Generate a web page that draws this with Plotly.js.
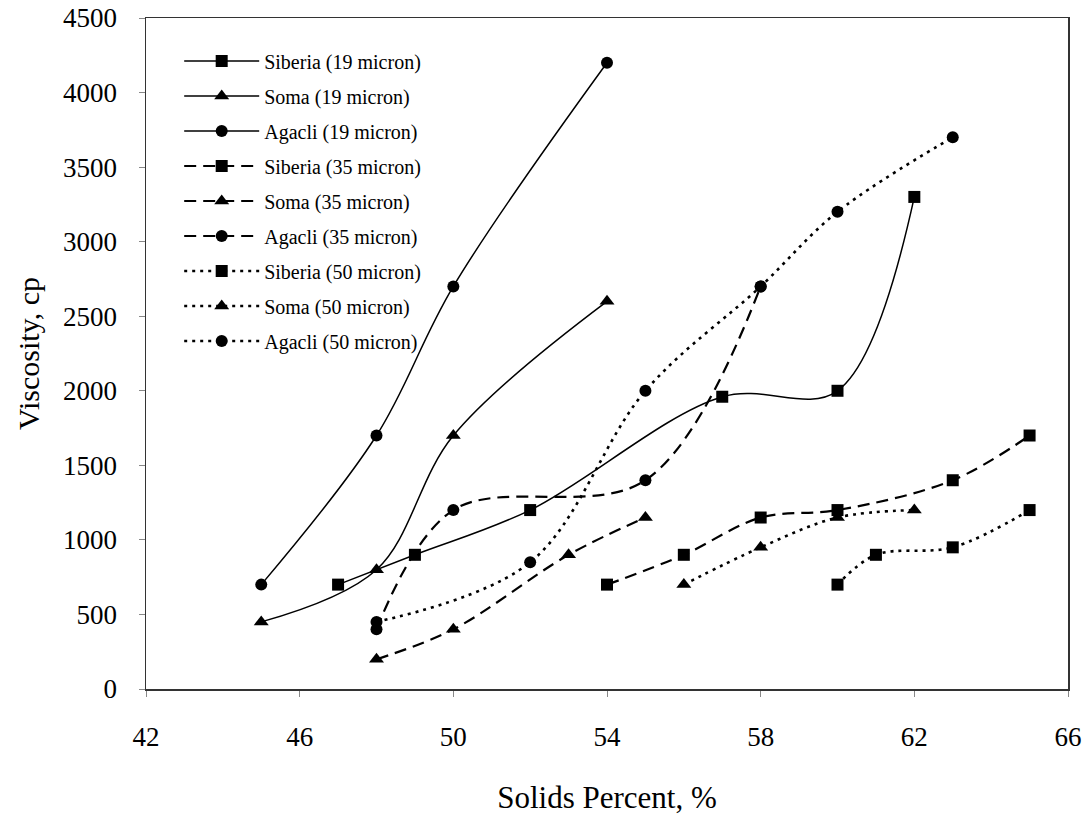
<!DOCTYPE html>
<html>
<head>
<meta charset="utf-8">
<script src="https://cdn.plot.ly/plotly-3.0.1.min.js"></script>
<style>
  html, body { margin: 0; padding: 0; background: #fff; }
  #chart { width: 1092px; height: 815px; }
</style>
</head>
<body>
<div id="chart"></div>
<script>
// Viscosity (cp) against solids percent for three coals at three grind sizes
const siberia19X = [47, 49, 52, 57, 60, 62];
const siberia19Y = [700, 900, 1200, 1960, 2000, 3300];
const soma19X = [45, 48, 50, 54];
const soma19Y = [450, 800, 1700, 2600];
const agacli19X = [45, 48, 50, 54];
const agacli19Y = [700, 1700, 2700, 4200];

const siberia35X = [54, 56, 58, 60, 63, 65];
const siberia35Y = [700, 900, 1150, 1200, 1400, 1700];
const soma35X = [48, 50, 53, 55];
const soma35Y = [200, 400, 900, 1150];
const agacli35X = [48, 50, 55, 58];
const agacli35Y = [400, 1200, 1400, 2700];

const siberia50X = [60, 61, 63, 65];
const siberia50Y = [700, 900, 950, 1200];
const soma50X = [56, 58, 60, 62];
const soma50Y = [700, 950, 1150, 1200];
const agacli50X = [48, 52, 55, 58, 60, 63];
const agacli50Y = [450, 850, 2000, 2700, 3200, 3700];

const xTicks = [42, 46, 50, 54, 58, 62, 66];
const yTicks = [0, 500, 1000, 1500, 2000, 2500, 3000, 3500, 4000, 4500];

const SERIF = '"Liberation Serif", "Times New Roman", serif';

// line style per grind size, marker per coal
const sizeStyle = {
  '19': { dash: 'solid', width: 1.5 },
  '35': { dash: '12px,7px', width: 2.2 },
  '50': { dash: '3px,5px', width: 2.6 }
};
const coalMarker = {
  Siberia: { symbol: 'square', size: 12 },
  Soma: { symbol: 'triangle-up', size: 13 },
  Agacli: { symbol: 'circle', size: 12 }
};

function series(coal, grind, xs, ys, idx) {
  return {
    type: 'scatter',
    mode: 'lines+markers',
    name: coal + ' (' + grind + ' micron)',
    x: xs,
    y: ys,
    legendgroup: 'g' + idx,
    line: { color: '#000', dash: sizeStyle[grind].dash, width: sizeStyle[grind].width,
            shape: 'spline', smoothing: 1 },
    marker: { color: '#000', symbol: coalMarker[coal].symbol, size: coalMarker[coal].size }
  };
}

const data = [
  series('Siberia', '19', siberia19X, siberia19Y, 1),
  series('Soma', '19', soma19X, soma19Y, 2),
  series('Agacli', '19', agacli19X, agacli19Y, 3),
  series('Siberia', '35', siberia35X, siberia35Y, 4),
  series('Soma', '35', soma35X, soma35Y, 5),
  series('Agacli', '35', agacli35X, agacli35Y, 6),
  series('Siberia', '50', siberia50X, siberia50Y, 7),
  series('Soma', '50', soma50X, soma50Y, 8),
  series('Agacli', '50', agacli50X, agacli50Y, 9)
];

const layout = {
  width: 1092,
  height: 815,
  margin: { l: 146, r: 24, t: 18, b: 126 },
  paper_bgcolor: '#fff',
  plot_bgcolor: '#fff',
  font: { family: SERIF, color: '#000', size: 27 },
  showlegend: true,
  legend: {
    x: 0.036, y: 0.965, xanchor: 'left', yanchor: 'top',
    bgcolor: 'rgba(0,0,0,0)',
    font: { family: SERIF, size: 20, color: '#000' },
    traceorder: 'grouped',
    tracegroupgap: 6,
    itemwidth: 75
  },
  xaxis: {
    range: [42, 66],
    tickvals: xTicks,
    ticktext: xTicks.map(String),
    ticks: 'outside', ticklen: 6, tickcolor: '#888', tickwidth: 1,
    ticklabelstandoff: 17,
    showgrid: false, zeroline: false,
    showline: true, linecolor: '#333', linewidth: 1.5, mirror: true,
    tickfont: { family: SERIF, size: 27 },
    title: { text: 'Solids Percent, %', font: { family: SERIF, size: 31 }, standoff: 36 }
  },
  yaxis: {
    range: [0, 4500],
    tickvals: yTicks,
    ticktext: yTicks.map(String),
    ticks: 'outside', ticklen: 6, tickcolor: '#888', tickwidth: 1,
    ticklabelstandoff: 16,
    showgrid: false, zeroline: false,
    showline: true, linecolor: '#333', linewidth: 1.5, mirror: true,
    tickfont: { family: SERIF, size: 27 },
    title: { text: 'Viscosity, cp', font: { family: SERIF, size: 30 }, standoff: 14 }
  }
};

Plotly.newPlot('chart', data, layout, { displayModeBar: false, staticPlot: true });
</script>
</body>
</html>
